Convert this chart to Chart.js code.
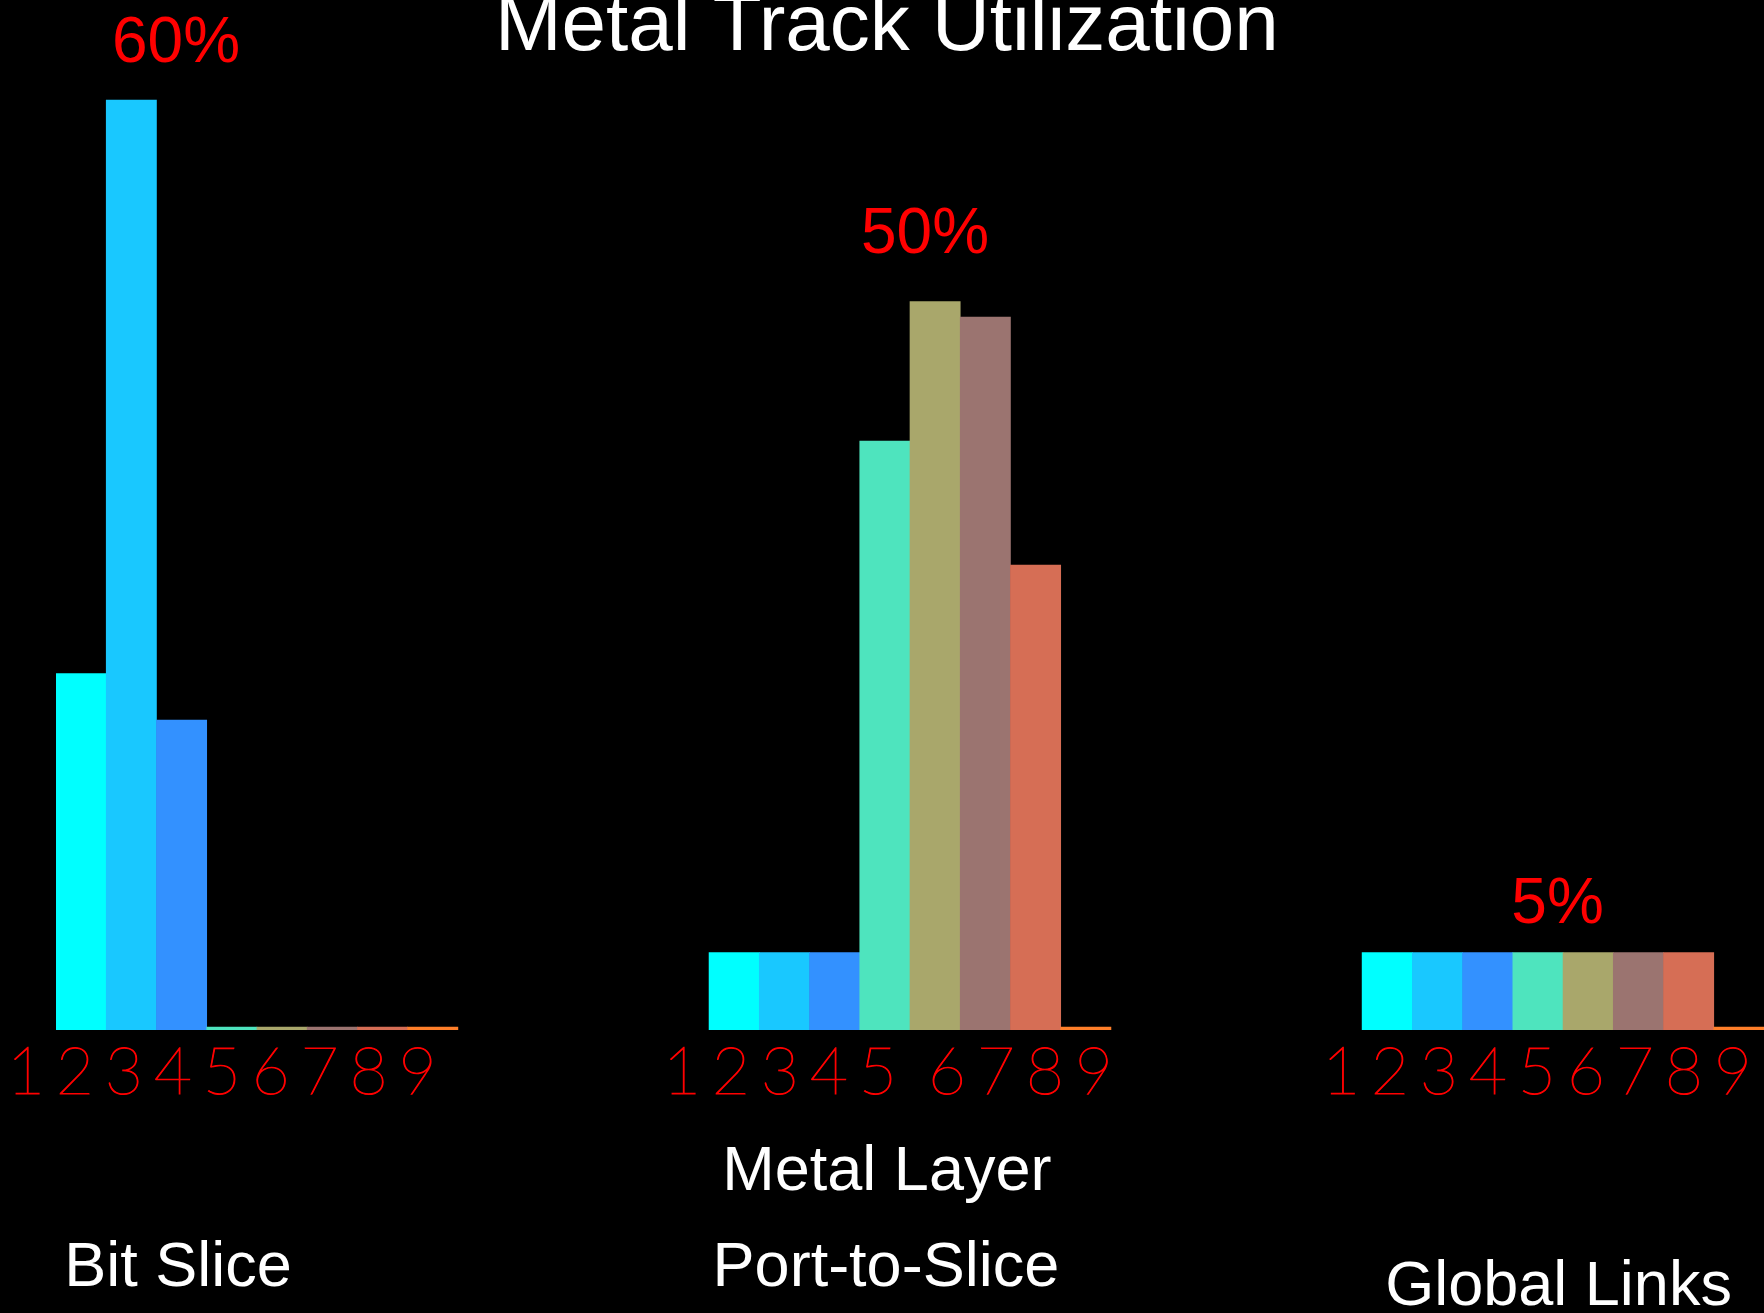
<!DOCTYPE html>
<html lang="en">
<head>
    <meta charset="UTF-8">
    <title>Metal Track Utilization</title>
    <script src="https://cdn.jsdelivr.net/npm/chart.js"></script>
    <style>
        html, body {
            margin: 0;
            padding: 0;
            background: #000;
        }
        .chart-box {
            position: relative;
            width: 1764px;
            height: 1313px;
        }
    </style>
</head>
<body>
    <div class="chart-box">
        <canvas id="trackChart"></canvas>
    </div>
    <script>
        // Values (percent of tracks used per metal layer)
        const metalLayers = ['1', '2', '3', '4', '5', '6', '7', '8'];
        const bitSlice = [23, 60, 20, 0, 0, 0, 0, 0];
        const portToSlice = [5, 5, 5, 38, 47, 46, 30, 0];
        const globalLinks = [5, 5, 5, 5, 5, 5, 5, 0];

        const panelNames = ['Bit Slice', 'Port-to-Slice', 'Global Links'];
        const peakLabels = ['60%', '50%', '5%'];
        const tickDigits = ['1', '2', '3', '4', '5', '6', '7', '8', '9'];
        const chartTitle = 'Metal Track Utilization';
        const axisTitle = 'Metal Layer';

        const layerColors = ['#00ffff', '#19c8ff', '#3391ff', '#4ee4be', '#a9a76b', '#9b7470', '#d66e55', '#ff7f2a'];

        // Empty slots between the three groups
        const gapSlots = 5;
        const panelSize = metalLayers.length + gapSlots;

        const labels = [];
        const values = [];
        const colors = [];
        [bitSlice, portToSlice, globalLinks].forEach((panel, i) => {
            if (i > 0) {
                for (let g = 0; g < gapSlots; g++) {
                    labels.push('');
                    values.push(null);
                    colors.push('transparent');
                }
            }
            panel.forEach((v, j) => {
                labels.push(metalLayers[j]);
                values.push(v);
                colors.push(layerColors[j]);
            });
        });

        // Where the texts go, in slots from the left edge of each group
        const peakOffset = [2.39, 4.30, 3.89];
        const peakLift = [38, 48, 29];
        const nameOffset = [2.43, 3.52, 3.91];
        const nameDrop = [256, 256, 275];
        const digitStart = [-0.60, -0.54, -0.42];
        const digitStep = 0.975;
        const digitGap = [0, 0.4, 0];   // extra space after digit 5

        const textPlugin = {
            id: 'panelText',
            afterDraw(chart) {
                const ctx = chart.ctx;
                const xs = chart.scales.x;
                const ys = chart.scales.y;
                const bottom = chart.chartArea.bottom;
                const edge = i => i * panelSize - 0.5;

                ctx.save();
                ctx.textAlign = 'center';
                ctx.textBaseline = 'alphabetic';

                // title
                ctx.font = '80px "Liberation Sans", Arial, sans-serif';
                ctx.fillStyle = '#ffffff';
                ctx.fillText(chartTitle, xs.getPixelForValue(edge(1) + 3.54), 50);

                // axis title
                ctx.font = '63px "Liberation Sans", Arial, sans-serif';
                ctx.fillText(axisTitle, xs.getPixelForValue(edge(1) + 3.54), bottom + 160);

                panelNames.forEach((name, i) => {
                    ctx.font = '63px "Liberation Sans", Arial, sans-serif';
                    ctx.fillStyle = '#ffffff';
                    ctx.fillText(name, xs.getPixelForValue(edge(i) + nameOffset[i]), bottom + nameDrop[i]);

                    // peak label above the highest bar of the group
                    const group = [bitSlice, portToSlice, globalLinks][i];
                    const top = ys.getPixelForValue(Math.max(...group));
                    ctx.font = '64px "Liberation Sans", Arial, sans-serif';
                    ctx.fillStyle = '#ff0000';
                    ctx.fillText(peakLabels[i], xs.getPixelForValue(edge(i) + peakOffset[i]), top - peakLift[i]);

                    // thin red digits under each group (hairline font, stroked so it reads as a line)
                    ctx.font = '100 66px Lato, "Noto Sans", sans-serif';
                    ctx.strokeStyle = '#ff0000';
                    ctx.lineWidth = 1;
                    tickDigits.forEach((d, k) => {
                        let pos = digitStart[i] + k * digitStep;
                        if (k >= 5) pos += digitGap[i];
                        const px = xs.getPixelForValue(edge(i) + pos);
                        ctx.fillText(d, px, bottom + 64);
                        ctx.strokeText(d, px, bottom + 64);
                    });
                });
                ctx.restore();
            }
        };

        const ctx = document.getElementById('trackChart').getContext('2d');
        new Chart(ctx, {
            type: 'bar',
            data: {
                labels: labels,
                datasets: [{
                    data: values,
                    backgroundColor: colors,
                    borderWidth: 0,
                    barPercentage: 1,
                    categoryPercentage: 1,
                    minBarLength: 3
                }]
            },
            options: {
                responsive: true,
                maintainAspectRatio: false,
                animation: false,
                layout: {
                    padding: { left: 56, right: 0, top: 0, bottom: 283 }
                },
                plugins: {
                    legend: { display: false },
                    tooltip: { enabled: false }
                },
                scales: {
                    x: { display: false },
                    y: { display: false, min: 0, max: 66.45 }
                }
            },
            plugins: [textPlugin]
        });
    </script>
</body>
</html>
